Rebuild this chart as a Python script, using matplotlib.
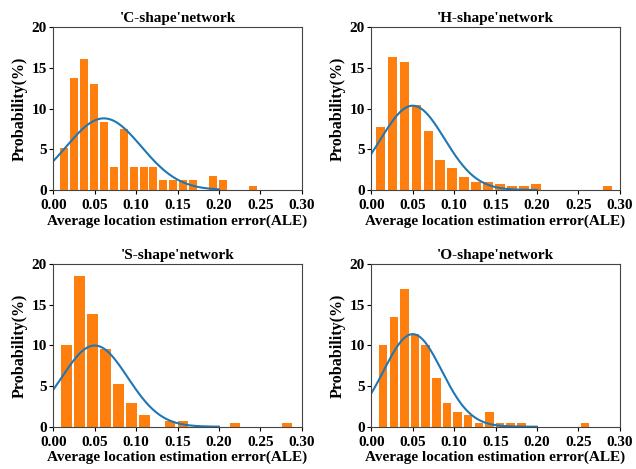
import matplotlib
matplotlib.use("Agg")
import matplotlib.pyplot as plt
import numpy as np

plt.rcParams['font.family'] = ['Liberation Serif', 'DejaVu Serif']
plt.rcParams['font.weight'] = 'bold'

titles = ["'C-shape'network", "'H-shape'network", "'S-shape'network", "'O-shape'network"]

# histogram ranges (first edge, last edge) and bar heights in %
c_range = (0.0067, 0.2473)
c_prob = [5.2, 13.8, 16.1, 13.0, 8.3, 2.8, 7.5, 2.8, 2.8, 2.8,
          1.2, 1.2, 1.2, 1.2, 0.0, 1.7, 1.2, 0.0, 0.0, 0.5]

h_range = (0.0039, 0.2925)
h_prob = [7.8, 16.3, 15.7, 10.4, 7.2, 3.7, 2.7, 1.65, 1.0, 1.0,
          0.75, 0.5, 0.5, 0.75, 0.0, 0.0, 0.0, 0.0, 0.0, 0.5]

s_range = (0.0083, 0.2898)
s_prob = [10.0, 18.5, 13.9, 9.6, 5.3, 2.9, 1.45, 0.0, 0.7, 0.7,
          0.0, 0.0, 0.0, 0.4, 0.0, 0.0, 0.0, 0.4]

o_range = (0.0079, 0.2647)
o_prob = [10.0, 13.5, 17.0, 11.4, 10.0, 6.0, 2.9, 1.85, 1.45, 0.4,
          1.85, 0.4, 0.4, 0.4, 0.0, 0.0, 0.0, 0.0, 0.0, 0.4]

# fitted normal curves (mean, std)
c_fit = (0.061, 0.0453)
h_fit = (0.050, 0.0385)
s_fit = (0.050, 0.0399)
o_fit = (0.050, 0.0350)

panels = [(c_range, c_prob, c_fit), (h_range, h_prob, h_fit),
          (s_range, s_prob, s_fit), (o_range, o_prob, o_fit)]

fig = plt.figure(figsize=(6.36, 4.69), dpi=100)
rects = [[0.0838, 0.5949, 0.3906, 0.3469], [0.5838, 0.5949, 0.3906, 0.3469],
         [0.0838, 0.0902, 0.3906, 0.3463], [0.5838, 0.0902, 0.3906, 0.3463]]

for rect, title, (rng, prob, fit) in zip(rects, titles, panels):
    ax = fig.add_axes(rect)
    edges = np.linspace(rng[0], rng[1], len(prob) + 1)
    centers = (edges[:-1] + edges[1:]) / 2
    ax.hist(centers, bins=edges, weights=prob, rwidth=0.8, color='#ff7f0e')

    mu, sd = fit
    xs = np.linspace(0, 0.2, 200)
    ax.plot(xs, np.exp(-(xs - mu) ** 2 / (2 * sd ** 2)) / (sd * np.sqrt(2 * np.pi)),
            color='#1f77b4', lw=1.5)

    ax.set_xlim(0, 0.3)
    ax.set_ylim(0, 20)
    ax.set_xticks(np.arange(0, 0.31, 0.05))
    ax.set_xticklabels(['%.2f' % t for t in np.arange(0, 0.31, 0.05)])
    ax.set_yticks([0, 5, 10, 15, 20])
    ax.tick_params(labelsize=11, length=3, width=0.8)
    ax.tick_params(axis='x', pad=3.5)
    ax.tick_params(axis='y', pad=1.5)
    for sp in ax.spines.values():
        sp.set_color('#444444')
        sp.set_linewidth(0.8)
    ax.set_title(title, fontsize=11, fontweight='bold', pad=4)
    ax.set_xlabel('Average location estimation error(ALE)', fontsize=11, fontweight='bold', labelpad=1.5)
    ax.set_ylabel('Probability(%)', fontsize=11.5, fontweight='bold', labelpad=3)

fig.savefig('out.png', dpi=100)
